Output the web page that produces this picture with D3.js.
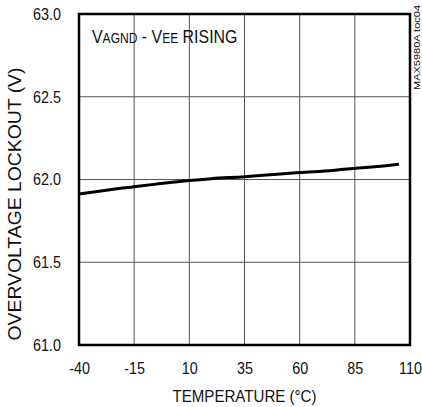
<!DOCTYPE html>
<html><head><meta charset="utf-8">
<script src="https://cdn.jsdelivr.net/npm/d3@7"></script>
<style>
body{margin:0;background:#fff;}
svg text{font-family:"Liberation Sans",Arial,sans-serif;fill:#111;}
</style></head><body>
<svg id="c" width="422" height="407"></svg>
<script>
const temps = [-40, -30, -20, -15, -5, 10, 20, 35, 50, 60, 75, 85, 95, 105];
const vols  = [61.912, 61.93, 61.948, 61.956, 61.972, 61.994, 62.005, 62.017, 62.032, 62.042, 62.055, 62.068, 62.078, 62.092];
const xTicks = [-40, -15, 10, 35, 60, 85, 110];
const yTicks = [61.0, 61.5, 62.0, 62.5, 63.0];

const svg = d3.select("#c");
const x = d3.scaleLinear().domain([-40, 110]).range([79, 410]);
const y = d3.scaleLinear().domain([61, 63]).range([345, 14]);
const NARROW = 0.87;

// grid
svg.append("g").selectAll("line").data(xTicks.slice(1, -1)).join("line")
  .attr("x1", d => x(d)).attr("x2", d => x(d)).attr("y1", y(61)).attr("y2", y(63))
  .attr("stroke", "#555").attr("stroke-width", 1);
svg.append("g").selectAll("line").data(yTicks.slice(1, -1)).join("line")
  .attr("x1", x(-40)).attr("x2", x(110)).attr("y1", d => y(d)).attr("y2", d => y(d))
  .attr("stroke", "#555").attr("stroke-width", 1);

// axes (labels only)
const xa = svg.append("g").attr("transform", `translate(0,${y(61)})`)
  .call(d3.axisBottom(x).tickValues(xTicks).tickSize(0).tickPadding(17).tickFormat(d => String(d)));
xa.select(".domain").remove();
xa.selectAll("text").attr("font-size", 16.5).attr("font-family", null)
  .attr("transform", `scale(${NARROW},1)`).attr("y", 17).attr("dy", "0.71em");
const ya = svg.append("g").attr("transform", `translate(${x(-40)},0)`)
  .call(d3.axisLeft(y).tickValues(yTicks).tickSize(0).tickFormat(d3.format(".1f")));
ya.select(".domain").remove();
ya.selectAll("text").attr("font-size", 16.5).attr("font-family", null)
  .attr("x", -18 / NARROW).attr("transform", `scale(${NARROW},1)`);

// frame
svg.append("rect").attr("x", x(-40)).attr("y", y(63))
  .attr("width", x(110) - x(-40)).attr("height", y(61) - y(63))
  .attr("fill", "none").attr("stroke", "#000").attr("stroke-width", 2.5);

// curve
svg.append("path").datum(temps.map((t, i) => [t, vols[i]]))
  .attr("d", d3.line().x(d => x(d[0])).y(d => y(d[1])).curve(d3.curveMonotoneX))
  .attr("fill", "none").attr("stroke", "#000").attr("stroke-width", 3);

// labels
svg.append("text").attr("x", 244.5).attr("y", 402).attr("text-anchor", "middle")
  .attr("font-size", 16.5).attr("textLength", 144).attr("lengthAdjust", "spacingAndGlyphs")
  .text("TEMPERATURE (°C)");
svg.append("text").attr("transform", "translate(21,204) rotate(-90)").attr("text-anchor", "middle")
  .attr("font-size", 18).attr("textLength", 273).attr("lengthAdjust", "spacingAndGlyphs")
  .text("OVERVOLTAGE LOCKOUT (V)");
const tg = svg.append("g").attr("transform", "translate(92,43) scale(0.86,1)");
const t = tg.append("text").attr("x", 0).attr("y", 0).attr("font-size", 18.5);
t.append("tspan").text("V");
t.append("tspan").attr("font-size", 14).text("AGND");
t.append("tspan").text(" - V");
t.append("tspan").attr("font-size", 14).text("EE");
t.append("tspan").text(" RISING");
svg.append("text").attr("transform", "translate(420,90) rotate(-90)")
  .attr("font-size", 8.5).attr("textLength", 85).attr("lengthAdjust", "spacingAndGlyphs")
  .text("MAX5980A toc04");
</script></body></html>
